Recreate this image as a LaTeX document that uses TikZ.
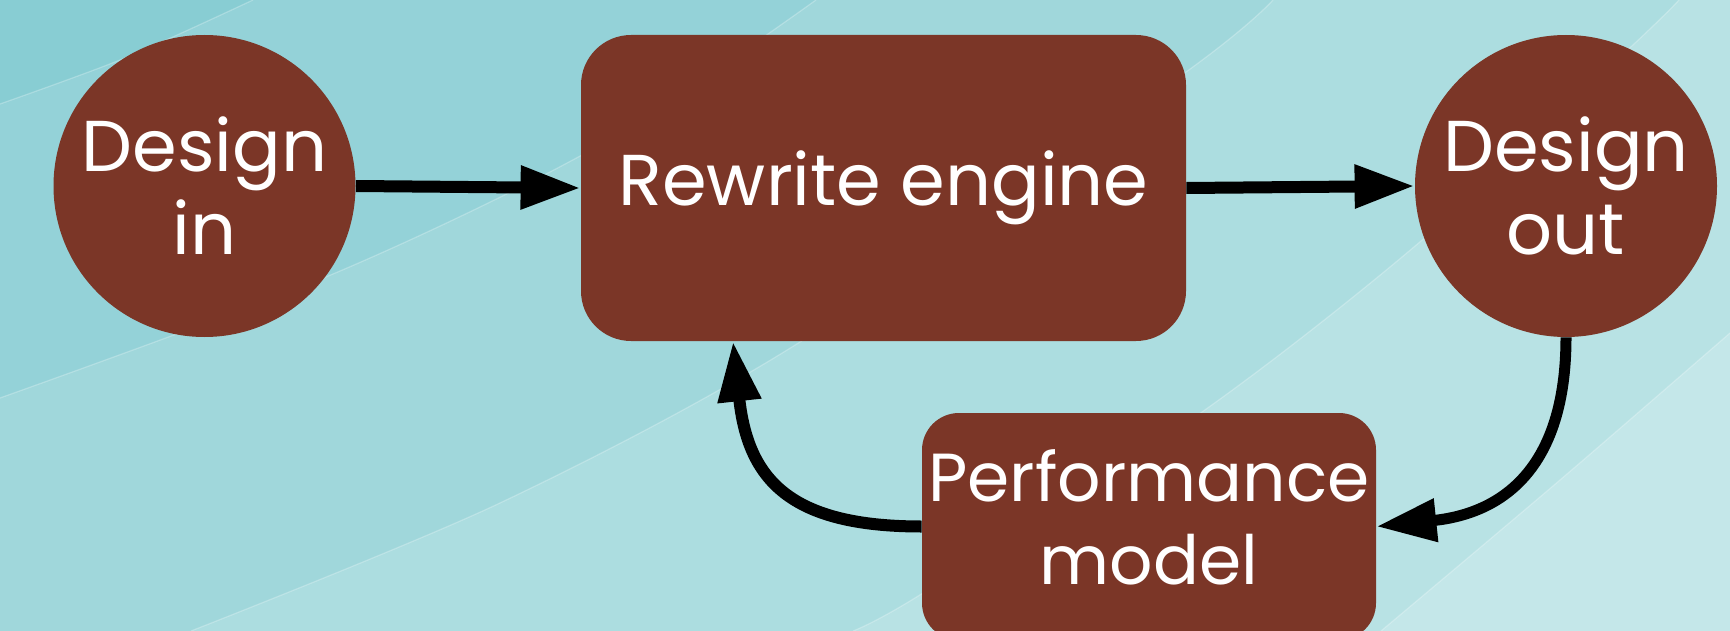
\documentclass[tikz,border=0pt]{standalone}
\usepackage{fontspec}
\setmainfont{Poppins}
\usetikzlibrary{arrows.meta}
\definecolor{bgA}{HTML}{88CDD3}
\definecolor{bgB}{HTML}{94D2D8}
\definecolor{bgC}{HTML}{A0D7DB}
\definecolor{bgD}{HTML}{ACDDE0}
\definecolor{bgE}{HTML}{B8E2E4}
\definecolor{bgF}{HTML}{C4E7E9}
\definecolor{nodebrown}{HTML}{7B3627}
\tikzset{
  shp/.style={fill=nodebrown, text=white, align=center, inner sep=0pt,
    font=\fontsize{36}{41.5}\selectfont},
  circ/.style={shp, circle, minimum size=151pt},
  bigbox/.style={shp, rectangle, rounded corners=25pt, minimum width=302.5pt, minimum height=153pt},
  smallbox/.style={shp, rectangle, rounded corners=18.5pt, minimum width=227pt, minimum height=113.5pt,
    font=\fontsize{34}{41.5}\selectfont},
  conn/.style={line width=6pt, -{Triangle[length=30pt,width=20.5pt]}},
  bandline/.style={white, opacity=0.25, line width=0.6pt}
}
\begin{document}
\begin{tikzpicture}[x=0.5pt,y=-0.5pt]
\useasboundingbox (0,0) rectangle (1730,631);
\clip (0,0) rectangle (1730,631);
% background bands
\fill[bgA] (0,0) rectangle (1730,631);
\fill[bgB] plot[smooth] coordinates {(0,104) (125,58) (253,0)} -- (1730,0) -- (1730,631) -- (0,631) -- cycle;
\fill[bgC] plot[smooth] coordinates {(0,398) (333,274) (600,145) (816,0)} -- (1730,0) -- (1730,631) -- (0,631) -- cycle;
\fill[bgD] plot[smooth] coordinates {(191,631) (500,503) (800,342) (1186,72) (1273,0)} -- (1730,0) -- (1730,631) -- cycle;
\fill[bgE] plot[smooth] coordinates {(853,631) (923,593) (1202,412) (1421,241) (1634,44) (1679,0)} -- (1730,0) -- (1730,631) -- cycle;
\fill[bgF] plot[smooth] coordinates {(1381,631) (1560,480) (1730,333)} -- (1730,631) -- cycle;
\draw[bandline] plot[smooth] coordinates {(0,104) (125,58) (253,0)};
\draw[bandline] plot[smooth] coordinates {(0,398) (333,274) (600,145) (816,0)};
\draw[bandline] plot[smooth] coordinates {(191,631) (500,503) (800,342) (1186,72) (1273,0)};
\draw[bandline] plot[smooth] coordinates {(853,631) (923,593) (1202,412) (1421,241) (1634,44) (1679,0)};
\draw[bandline] plot[smooth] coordinates {(1381,631) (1560,480) (1730,333)};
% nodes
\node[circ] (din) at (204.5,186) {Design\\in};
\node[bigbox] (rw) at (883.5,188) {Rewrite engine};
\node[circ] (dout) at (1566,186) {Design\\out};
\node[smallbox] (perf) at (1149,526.5) {\raisebox{5.5pt}{\begin{tabular}{@{}c@{}}Performance\\model\end{tabular}}};
\coordinate (xr) at (733,0);
\coordinate (rwb) at (rw.south -| xr);
% connectors
\draw[conn] (din.east) -- (rw.west);
\draw[conn] (rw.east) -- (dout.west);
\draw[conn, line width=5.5pt] (dout.south) .. controls +(0,133) and +(124,-13) .. (perf.east);
\draw[conn] (perf.west) .. controls +(-132,0) and +(15,138) .. (rwb);
\end{tikzpicture}
\end{document}
